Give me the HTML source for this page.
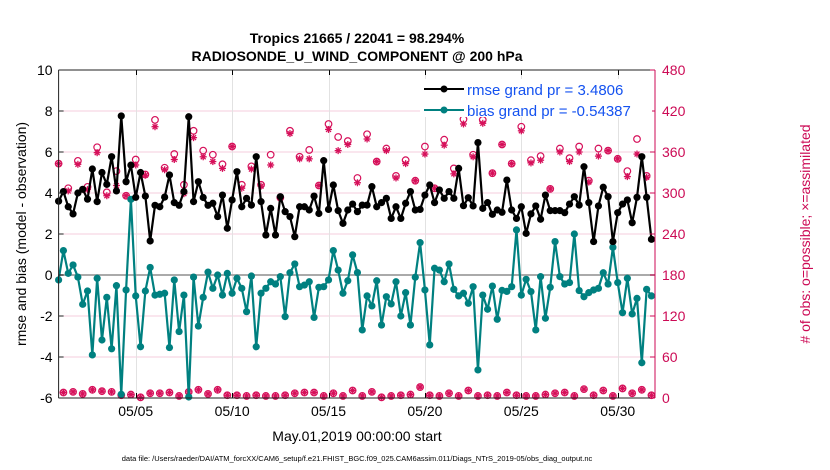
<!DOCTYPE html>
<html><head><meta charset="utf-8">
<style>
html,body{margin:0;padding:0;background:#fff;}
svg{display:block;font-family:"Liberation Sans",Arial,sans-serif;}
</style></head>
<body>
<svg id="chart" width="830" height="470" viewBox="0 0 830 470">
<rect x="0" y="0" width="830" height="470" fill="#fff"/>
<text x="357" y="43" text-anchor="middle" font-size="14" font-weight="bold">Tropics 21665 / 22041 = 98.294%</text>
<text x="357" y="61" text-anchor="middle" font-size="14" font-weight="bold">RADIOSONDE_U_WIND_COMPONENT @ 200 hPa</text>
<g id="grid"></g>
<g id="series"></g>
<g id="axes"></g>
<text transform="translate(26,234) rotate(-90)" text-anchor="middle" font-size="14">rmse and bias (model - observation)</text>
<text transform="translate(810,234) rotate(-90)" text-anchor="middle" font-size="14" fill="#cc0a55"># of obs: o=possible; ×=assimilated</text>
<text x="357" y="441" text-anchor="middle" font-size="14">May.01,2019 00:00:00 start</text>
<text x="357" y="461" text-anchor="middle" font-size="7.5">data file: /Users/raeder/DAI/ATM_forcXX/CAM6_setup/f.e21.FHIST_BGC.f09_025.CAM6assim.011/Diags_NTrS_2019-05/obs_diag_output.nc</text>
<g id="legend">
<rect x="420" y="79" width="232" height="38" fill="#fff"/>
<line x1="424" y1="89" x2="464" y2="89" stroke="#000" stroke-width="2"/>
<circle cx="444" cy="89" r="3.5" fill="#000"/>
<text x="467" y="95" font-size="15" fill="#1452f0">rmse grand pr = 3.4806</text>
<line x1="424" y1="110" x2="464" y2="110" stroke="#008080" stroke-width="2"/>
<circle cx="444" cy="110" r="3.5" fill="#008080"/>
<text x="467" y="116" font-size="15" fill="#1452f0">bias grand pr = -0.54387</text>
</g>
</svg>
<script>
const tickDays = [4, 9, 14, 19, 24, 29];
const tickLabels = ["05/05", "05/10", "05/15", "05/20", "05/25", "05/30"];
const leftTicks = [-6, -4, -2, 0, 2, 4, 6, 8, 10];
const rightTicks = [0, 60, 120, 180, 240, 300, 360, 420, 480];
const rmse = [3.6,4.07,3.33,2.98,4.0,4.18,3.7,5.17,3.58,5.0,4.42,5.77,4.1,7.76,4.55,5.36,3.79,5.0,3.85,1.66,3.4,3.33,3.8,4.88,3.53,3.4,4.07,7.72,3.58,4.55,3.78,3.4,
3.5,2.85,3.9,2.28,3.66,5.04,3.33,3.74,3.41,5.77,3.58,1.95,3.25,1.95,3.82,3.09,2.85,1.87,3.33,3.33,3.17,3.85,3.0,5.58,3.2,4.39,3.14,2.52,3.17,3.46,3.09,
3.41,3.41,4.31,3.33,3.53,3.74,2.76,3.33,2.76,3.5,4.07,3.17,3.2,3.9,4.39,3.53,4.15,3.74,4.07,3.74,5.2,3.38,3.77,3.37,6.46,3.25,3.53,2.96,3.17,3.06,4.63,
3.17,2.76,3.33,2.03,2.98,3.37,2.72,3.9,3.14,3.14,3.14,3.04,3.46,3.82,3.41,5.28,3.53,1.63,3.37,4.28,3.82,1.63,3.04,3.46,3.66,2.55,3.79,5.77,3.79,1.74];
const bias = [-0.24,1.19,0.08,0.49,-0.1,-1.43,-0.78,-3.9,-0.16,-3.17,-1.09,-3.6,-0.52,-5.82,-0.73,3.69,-1.02,-3.5,-0.78,0.37,-0.98,-0.94,-0.89,-3.54,-0.24,-2.76,-0.98,-5.95,-0.1,-2.49,-1.09,0.14,
-0.65,0,-0.98,0.08,-0.89,-0.16,-0.65,-1.79,-0.05,-3.5,-0.89,-0.65,-0.33,-0.44,-0.08,-2.03,0.11,0.54,-0.57,-0.49,-0.33,-2.07,-0.6,-0.57,-0.24,1.19,0.24,-0.89,-0.28,0.98,0.12,
-2.68,-1.02,-1.51,-0.28,-2.44,-1.06,-1.41,-0.33,-2.0,-0.86,-2.44,-0.11,1.58,-0.73,-3.41,0.33,0.24,-0.33,0.54,-0.7,-1.02,-0.89,-1.38,-0.57,-4.63,-0.98,-1.67,-0.54,-2.16,-0.75,-0.8,
-0.57,2.2,-0.98,-0.21,-0.81,-2.68,-0.08,-2.11,-0.6,1.63,-0.08,-0.44,-0.37,2.0,-0.76,-1.06,-0.86,-0.73,-0.65,0.11,-0.44,1.35,-0.37,-1.84,-0.16,-1.9,-1.14,-4.28,-0.7,-1.02];
// obs counts at 00Z/12Z (even indices) and 06Z/18Z (odd indices)
const possibleSynoptic = [343,307,347,309,367,301,332,296,349,327,407,337,357,312,391,362,356,342,368,312,339,312,356,293,391,353,363,311,401,382,376,322,386,346,365,325,348,318,368,307,378,336,408,356,407,329,371,343,397,348,354,306,365,351,368,318,365,362,350,332,379,325];
const assimSynoptic = [343,303,342,305,359,296,311,296,341,326,397,334,349,299,381,353,346,336,368,307,335,310,341,293,387,350,350,311,393,362,371,315,379,346,362,322,343,318,357,307,370,328,401,353,402,329,371,343,391,344,348,306,360,346,360,316,354,362,350,324,357,323];
const obsOffSynoptic = [8,9,6,12,10,9,4,5,1,7,7,8,3,9,12,6,12,4,4,3,4,3,3,4,7,8,8,3,7,3,11,3,9,1,3,4,5,16,4,3,7,3,11,3,4,3,8,4,3,3,5,7,8,3,13,4,11,3,14,7,12,4];

const NS="http://www.w3.org/2000/svg";
const L=58.6, R=655, T=70, B=398, DAYPX=19.28;
const xs = i => L + i*DAYPX/4;
const xd = d => L + d*DAYPX;
const yl = v => B - (v+6)*(B-T)/16;
const yr = v => B - v*(B-T)/480;
function mk(tag, attrs, parent){const e=document.createElementNS(NS,tag);for(const k in attrs)e.setAttribute(k,attrs[k]);parent.appendChild(e);return e;}
const grid=document.getElementById('grid'), ser=document.getElementById('series'), axes=document.getElementById('axes');

leftTicks.forEach(v=>{ if(v===0||v===-6||v===10) return;
  const g=mk('line',{x1:L,x2:R,y1:yl(v),y2:yl(v),stroke:'#f4cddc','stroke-width':1},grid);
  
  
});
tickDays.forEach((d,k)=>{
  const xg=Math.round(xd(d))+0.5;
  const g=mk('line',{x1:xg,x2:xg,y1:T,y2:B,stroke:'#e2e2e2','stroke-width':1},grid);
  
  
  const t=mk('text',{x:xd(d),y:B+18,'text-anchor':'middle','font-size':14},axes);
  t.textContent=tickLabels[k];
  
  
  mk('line',{x1:xg,x2:xg,y1:B,y2:B-5,stroke:'#000'},axes);
  mk('line',{x1:xg,x2:xg,y1:T,y2:T+5,stroke:'#000'},axes);
});
const zl=mk('line',{x1:L,x2:R,y1:yl(0),y2:yl(0),stroke:'#aaaaaa','stroke-width':2},grid);



function drawObs(cx, vp, va){
  const cy=yr(vp);
  const c=mk('circle',{cx:cx,cy:cy,r:3.3,fill:'none',stroke:'#d6105a','stroke-width':1.2},ser);
  
  
  const ay=yr(va), s=3.5;
  const g=mk('g',{stroke:'#d6105a','stroke-width':1.3},ser);
  
  
  mk('line',{x1:cx-s,x2:cx+s,y1:ay,y2:ay},g);
  mk('line',{x1:cx,x2:cx,y1:ay-s,y2:ay+s},g);
  mk('line',{x1:cx-s*0.7,x2:cx+s*0.7,y1:ay-s*0.7,y2:ay+s*0.7},g);
  mk('line',{x1:cx-s*0.7,x2:cx+s*0.7,y1:ay+s*0.7,y2:ay-s*0.7},g);
}
possibleSynoptic.forEach((v,k)=>drawObs(xs(2*k), v, assimSynoptic[k]));
obsOffSynoptic.forEach((v,k)=>drawObs(xs(2*k+1), v, v));

function drawSeries(arr,color,name){
  const p=mk('polyline',{points:arr.map((v,i)=>xs(i)+','+yl(v)).join(' '),fill:'none',stroke:color,'stroke-width':2.2,'stroke-linejoin':'round'},ser);
  
  
  arr.forEach((v,i)=>{
    const c=mk('circle',{cx:xs(i),cy:yl(v),r:3.6,fill:color},ser);
    
    
  });
}
drawSeries(bias,'#008080','bias');
drawSeries(rmse,'#000000','rmse');

mk('line',{x1:L,x2:R,y1:T,y2:T,stroke:'#222','stroke-width':1},axes);
mk('line',{x1:L,x2:R,y1:B,y2:B,stroke:'#222','stroke-width':1},axes);
mk('line',{x1:L,x2:L,y1:T,y2:B,stroke:'#222','stroke-width':1},axes);
mk('line',{x1:R,x2:R,y1:T,y2:B,stroke:'#cc0a55','stroke-width':1},axes);
leftTicks.forEach(v=>{
  const t=mk('text',{x:L-6,y:yl(v)+5,'text-anchor':'end','font-size':14},axes);
  t.textContent=v;
  
  
  mk('line',{x1:L,x2:L+5,y1:yl(v),y2:yl(v),stroke:'#222'},axes);
});
rightTicks.forEach(v=>{
  const t=mk('text',{x:R+7,y:yr(v)+5,'font-size':14,fill:'#cc0a55'},axes);
  t.textContent=v;
  
  
  mk('line',{x1:R-5,x2:R,y1:yr(v),y2:yr(v),stroke:'#cc0a55'},axes);
});
document.getElementById('chart').appendChild(document.getElementById('legend'));
</script>
</body></html>
